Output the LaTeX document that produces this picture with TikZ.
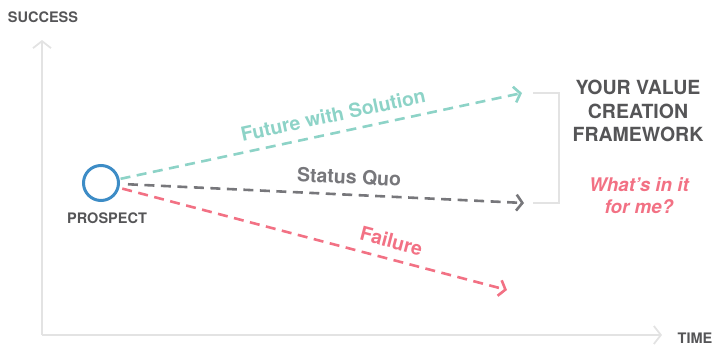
\documentclass[tikz,border=0pt]{standalone}
\usepackage{fontspec}
\setmainfont{TeX Gyre Heros}
\usetikzlibrary{arrows.meta}
\definecolor{axisgray}{HTML}{E3E3E3}
\definecolor{textgray}{HTML}{555557}
\definecolor{solteal}{HTML}{8DD3C7}
\definecolor{quogray}{HTML}{77777B}
\definecolor{failred}{HTML}{F27184}
\definecolor{prospblue}{HTML}{3D8CC6}
\begin{document}
\begin{tikzpicture}[x=1pt,y=-1pt,
    axis/.style={draw=axisgray,line width=1.8pt,-{Straight Barb[length=7pt,width=18pt]}},
    outcome/.style={line width=2.6pt,dash pattern=on 10pt off 6.5pt,-{Straight Barb[length=6pt,width=16pt]}},
    caps/.style={text=textgray,font=\bfseries\fontsize{14.5}{14.5}\selectfont},
    lbl/.style={font=\bfseries\fontsize{19.5}{19.5}\selectfont,sloped,above=9.5pt,inner sep=0pt,text depth=0pt}]
    \useasboundingbox (0,0) rectangle (715,347);
    % axes
    \coordinate (o) at (42,335);
    \coordinate (ytop) at (42,40);
    \coordinate (xend) at (662,335);
    \draw[axis] (o) -- (ytop);
    \draw[axis] (o) -- (xend);
    \node[caps] (succ) at (43,17) {SUCCESS};
    \node[caps] (time) at (695,338) {TIME};
    % prospect
    \node[circle,draw=prospblue,line width=3pt,minimum size=35pt] (p) at (101,183) {};
    \node[caps] (plbl) at (107,218) {PROSPECT};
    % outcomes
    \coordinate (fut) at (522,93);
    \coordinate (sq) at (524,203);
    \coordinate (fail) at (507,290);
    \draw[outcome,solteal,shorten <=1pt] (p) -- node[lbl,pos=0.54] {Future with Solution} (fut);
    \draw[outcome,quogray,shorten <=8pt] (p) -- node[lbl,pos=0.565] {Status Quo} (sq);
    \draw[outcome,failred,shorten <=3pt] (p) -- node[lbl,pos=0.69] {Failure} (fail);
    % bracket
    \coordinate (bt) at (533,93);
    \coordinate (bb) at (533,203);
    \draw[axisgray,line width=1.8pt] (bt) -- ++(26,0) |- (bb);
    \node[text=textgray,align=center,font=\bfseries\fontsize{19.5}{23.5}\selectfont] (vc) at (638,111) {YOUR VALUE\\CREATION\\FRAMEWORK};
    \node[text=failred,align=center,font=\bfseries\itshape\fontsize{18.8}{22}\selectfont] (wiif) at (639,196) {What’s in it\\for me?};
\end{tikzpicture}
\end{document}
